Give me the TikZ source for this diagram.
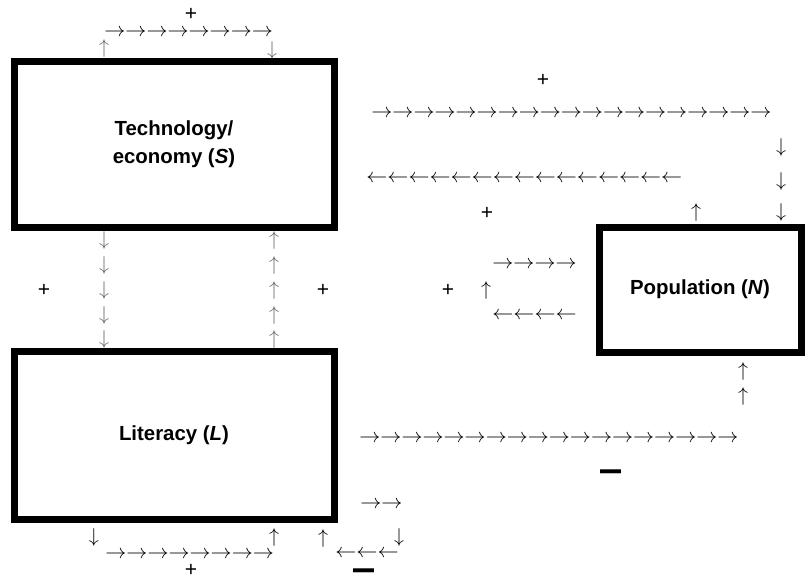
\documentclass[tikz,border=0pt]{standalone}
\usepackage{fontspec}
\setmainfont{Liberation Sans}
\usepackage{graphicx}

% a run of arrow glyphs, n long
\newcommand{\rightrun}[1]{\scalebox{1.053}[1]{\foreach \k in {1,...,#1}{$\rightarrow$}}}
\newcommand{\leftrun}[1]{\scalebox{1.053}[1]{\foreach \k in {1,...,#1}{$\leftarrow$}}}
\newcommand{\minussign}{\smash{\scalebox{1}[1.9]{\bfseries —}}}

\tikzset{
  stock/.style={draw, line width=3.5pt, inner sep=0pt, align=center,
    font=\fontsize{10.2}{14}\selectfont\bfseries},
  glyph/.style={inner sep=0pt, font=\fontsize{10}{10}\selectfont},
  run/.style={glyph, anchor=west},
  faint/.style={glyph, text=black!60},
  sign/.style={inner sep=0pt, font=\fontsize{10.5}{10.5}\selectfont}
}

\begin{document}
\begin{tikzpicture}[x=0.5pt, y=-0.5pt]
\useasboundingbox (0,0) rectangle (805,579);

% Stocks
\node[stock, minimum width=160pt, minimum height=83pt] (tech) at (174,144)
  {Technology/\\economy (\textit{S})};
\node[stock, minimum width=160pt, minimum height=84pt] (lit) at (174,435)
  {Literacy (\textit{L})};
\node[stock, minimum width=101pt, minimum height=62.5pt] (pop) at (700,289.5)
  {Population (\textit{N})};

% S feeds itself
\node[faint] (sup) at (104,48) {$\uparrow$};
\node[run] (srun) at (104,33) {\rightrun{8}};
\node[faint] (sdown) at (272,50) {$\downarrow$};
\node[sign] (splus) at (191,14) {+};

% S <-> L
\foreach \y [count=\i] in {240,265,290,315,339} {
  \node[faint] (sl\i) at (104,\y) {$\downarrow$};
  \node[faint] (ls\i) at (274,\y) {$\uparrow$};
}
\node[sign] (slplus) at (44,290) {+};
\node[sign] (lsplus) at (323,290) {+};

% S <-> N
\node[sign] (snplus) at (543,80) {+};
\node[run] (snrun) at (371,114) {\rightrun{19}};
\foreach \y [count=\i] in {147,181,212}
  \node[glyph] (sn\i) at (781,\y) {$\downarrow$};
\node[run] (nsrun) at (366,179) {\leftrun{15}};
\node[glyph] (nsup) at (696,212) {$\uparrow$};
\node[sign] (nsplus) at (487,213) {+};

% N feeds itself
\node[run] (nrun) at (492,265) {\rightrun{4}};
\node[glyph] (nup) at (486,290) {$\uparrow$};
\node[sign] (nplus) at (448,290) {+};
\node[run] (nback) at (492,316) {\leftrun{4}};

% L -> N
\node[run] (lnrun) at (359,439) {\rightrun{18}};
\node[glyph] (ln1) at (743,371) {$\uparrow$};
\node[glyph] (ln2) at (743,396) {$\uparrow$};
\node[sign] (lnminus) at (611,482) {\minussign};

% L feeds itself, positive
\node[glyph] (ldown) at (94,537) {$\downarrow$};
\node[run] (lrun) at (105,555) {\rightrun{8}};
\node[glyph] (lup) at (274,537) {$\uparrow$};
\node[sign] (lplus) at (191,570) {+};

% L feeds itself, negative
\node[run] (lnegrun) at (360,505) {\rightrun{2}};
\node[glyph] (lnegdown) at (399,537) {$\downarrow$};
\node[run] (lnegback) at (335,554) {\leftrun{3}};
\node[glyph] (lnegup) at (323,538) {$\uparrow$};
\node[sign] (lminus) at (364,581) {\minussign};

\end{tikzpicture}
\end{document}
